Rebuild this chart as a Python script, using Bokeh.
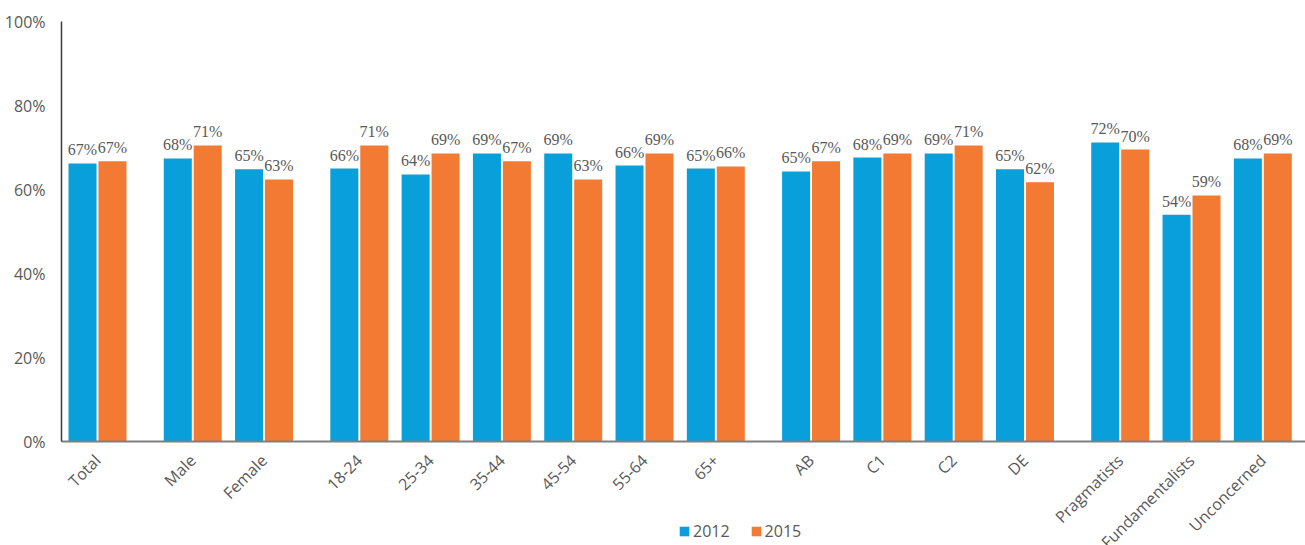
import math
from bokeh.plotting import figure
from bokeh.models import (ColumnDataSource, Range1d, FixedTicker, PrintfTickFormatter,
                          Legend, LegendItem, LabelSet)
from bokeh.transform import dodge
from bokeh.embed import file_html
from bokeh.resources import INLINE

categories = ["Total", "Male", "Female", "18-24", "25-34", "35-44", "45-54", "55-64", "65+",
              "AB", "C1", "C2", "DE", "Pragmatists", "Fundamentalists", "Unconcerned"]
group_sizes = [1, 2, 6, 4, 3]
values_2012 = [66.2, 67.4, 64.8, 65.0, 63.6, 68.6, 68.6, 65.7, 65.0, 64.3, 67.6, 68.6, 64.8, 71.2, 54.0, 67.4]
values_2015 = [66.7, 70.5, 62.4, 70.5, 68.6, 66.7, 62.4, 68.6, 65.5, 66.7, 68.6, 70.5, 61.7, 69.5, 58.6, 68.6]
labels_2012 = ["67%", "68%", "65%", "66%", "64%", "69%", "69%", "66%", "65%", "65%", "68%", "69%", "65%", "72%", "54%", "68%"]
labels_2015 = ["67%", "71%", "63%", "71%", "69%", "67%", "63%", "69%", "66%", "67%", "69%", "71%", "62%", "70%", "59%", "69%"]
y_ticks = [0, 20, 40, 60, 80, 100]

BLUE = "#089fda"
ORANGE = "#f37a32"
GRAY_TEXT = "#595959"
FONT = "Open Sans"

W, H = 1305, 545
PX_X = 71.3          # pixels per category step
PX_Y = 4.2           # pixels per percent
GROUP_GAP = 0.336
OFFSET = 0.21
BAR_W = 0.393

group_index = []
for g, n in enumerate(group_sizes):
    group_index += [g] * n
positions = [round(i + g * GROUP_GAP, 4) for i, g in enumerate(group_index)]

x_start = -97 / PX_X
x_end = x_start + W / PX_X
y_end = 441 / PX_Y
y_start = y_end - H / PX_Y
y_axis_x = x_start + 61 / PX_X

src = ColumnDataSource(dict(
    x=positions,
    v12=values_2012, v15=values_2015,
    l12=labels_2012, l15=labels_2015,
))

p = figure(width=W, height=H, output_backend="svg", toolbar_location=None,
           x_range=Range1d(x_start, x_end), y_range=Range1d(y_start, y_end),
           min_border=0)
p.outline_line_color = None
p.grid.visible = False
p.background_fill_color = "white"

r12 = p.vbar(x=dodge("x", -OFFSET), top="v12", width=BAR_W, source=src, color=BLUE, line_color=None)
r15 = p.vbar(x=dodge("x", OFFSET), top="v15", width=BAR_W, source=src, color=ORANGE, line_color=None)

for off, col, lab in [(-OFFSET, "v12", "l12"), (OFFSET, "v15", "l15")]:
    ls = LabelSet(x=dodge("x", off), y=col, text=lab, source=src, text_align="center",
                  text_baseline="alphabetic", y_offset=8, text_font=FONT,
                  text_font_size="16px", text_color=GRAY_TEXT)
    p.add_layout(ls)

# y axis
p.yaxis.fixed_location = y_axis_x
p.yaxis.bounds = (0, 100)
p.yaxis.ticker = FixedTicker(ticks=y_ticks)
p.yaxis.formatter = PrintfTickFormatter(format="%d%%")
p.yaxis.major_tick_line_color = None
p.yaxis.minor_tick_line_color = None
p.yaxis.axis_line_color = "#3a3a3a"
p.yaxis.axis_line_width = 1.5
p.yaxis.major_label_standoff = 10
p.yaxis.major_label_text_font = FONT
p.yaxis.major_label_text_font_size = "16px"
p.yaxis.major_label_text_color = GRAY_TEXT

# x axis
p.xaxis.fixed_location = 0
p.xaxis.bounds = (y_axis_x, x_end)
p.xaxis.ticker = FixedTicker(ticks=positions)
p.xaxis.major_label_overrides = {pos: c for pos, c in zip(positions, categories)}
p.xaxis.major_label_orientation = math.pi / 4
p.xaxis.major_tick_line_color = None
p.xaxis.minor_tick_line_color = None
p.xaxis.axis_line_color = "#7f7f7f"
p.xaxis.axis_line_width = 2
p.xaxis.major_label_standoff = 10
p.xaxis.major_label_text_font = FONT
p.xaxis.major_label_text_font_size = "16px"
p.xaxis.major_label_text_color = GRAY_TEXT

legend = Legend(items=[LegendItem(label="2012", renderers=[r12]),
                       LegendItem(label="2015", renderers=[r15])],
                location=(678, 3), orientation="horizontal",
                glyph_width=12, glyph_height=12, label_standoff=3, spacing=20,
                padding=0, margin=0, border_line_color=None, background_fill_alpha=0,
                label_text_font=FONT, label_text_font_size="16px", label_text_color=GRAY_TEXT,
                label_height=12)
p.add_layout(legend, "center")

open("out.html", "w").write(file_html(p, INLINE))
